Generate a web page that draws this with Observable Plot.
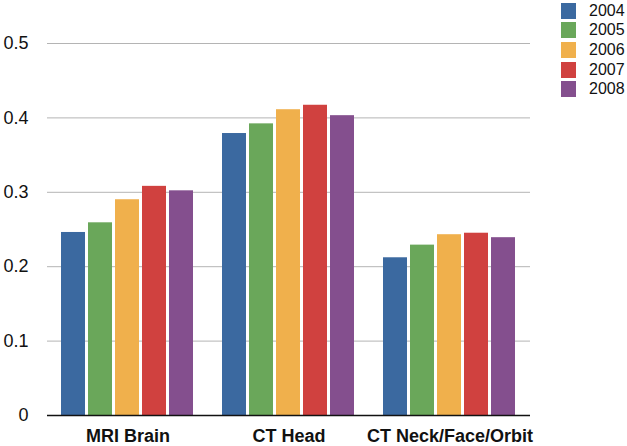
<!DOCTYPE html>
<html><head><meta charset="utf-8">
<script src="https://cdn.jsdelivr.net/npm/d3@7"></script>
<script src="https://cdn.jsdelivr.net/npm/@observablehq/plot@0.6"></script>
<style>
body{margin:0;background:#fff;}
#wrap{position:relative;width:627px;height:446px;font-family:"Liberation Sans",Arial,Helvetica,sans-serif;}
#legend{position:absolute;left:561px;top:1px;}
.row{display:flex;align-items:center;height:19.6px;font-size:16px;color:#111;}
.sw{width:15px;height:16px;margin-right:13px;}
g[aria-label="fx-axis tick label"] text{font-weight:bold;}
</style></head><body><div id="wrap"><div id="legend"></div></div>
<script>
const categories = ["MRI Brain", "CT Head", "CT Neck/Face/Orbit"];
const years = ["2004", "2005", "2006", "2007", "2008"];
const colors = ["#3b69a0", "#6aa75a", "#f0b04c", "#d0413f", "#844f8e"];
const val2004 = [0.246, 0.379, 0.212];
const val2005 = [0.259, 0.392, 0.229];
const val2006 = [0.290, 0.411, 0.243];
const val2007 = [0.308, 0.417, 0.245];
const val2008 = [0.302, 0.403, 0.239];
const yTicks = [0, 0.1, 0.2, 0.3, 0.4, 0.5];

const series = [val2004, val2005, val2006, val2007, val2008];
const data = [];
categories.forEach((c, i) => years.forEach((y, j) => data.push({category: c, year: y, value: series[j][i]})));

const chart = Plot.plot({
  width: 627, height: 446,
  marginLeft: 46, marginRight: 96, marginTop: 43, marginBottom: 31,
  style: {fontFamily: '"Liberation Sans", Arial, Helvetica, sans-serif', fontSize: "18px", color: "#111", background: "#fff"},
  fx: {domain: categories, padding: 0, label: null},
  x: {domain: years, axis: null, paddingInner: 0.107, paddingOuter: 0.446},
  y: {domain: [0, 0.5], label: null},
  color: {domain: years, range: colors},
  marks: [
    Plot.gridY(yTicks.filter(d => d > 0), {stroke: "#b4b4b4", strokeOpacity: 1, strokeWidth: 1}),
    Plot.barY(data, {fx: "category", x: "year", y: "value", fill: "year"}),
    Plot.ruleY([0], {stroke: "#111", strokeWidth: 1.5}),
    Plot.axisY({ticks: yTicks, tickSize: 0, tickPadding: 19, tickFormat: d => d === 0 ? "0" : d.toFixed(1), label: null, fontSize: 18}),
    Plot.axisFx({anchor: "bottom", tickSize: 0, tickPadding: 14, label: null, fontSize: 18, fontWeight: "bold"})
  ]
});
document.getElementById("wrap").prepend(chart);

const legend = document.getElementById("legend");
years.forEach((y, i) => {
  const row = document.createElement("div");
  row.className = "row";
  const sw = document.createElement("div");
  sw.className = "sw";
  sw.style.background = colors[i];
  const t = document.createElement("span");
  t.textContent = y;
  row.appendChild(sw); row.appendChild(t);
  legend.appendChild(row);
});
</script></body></html>
